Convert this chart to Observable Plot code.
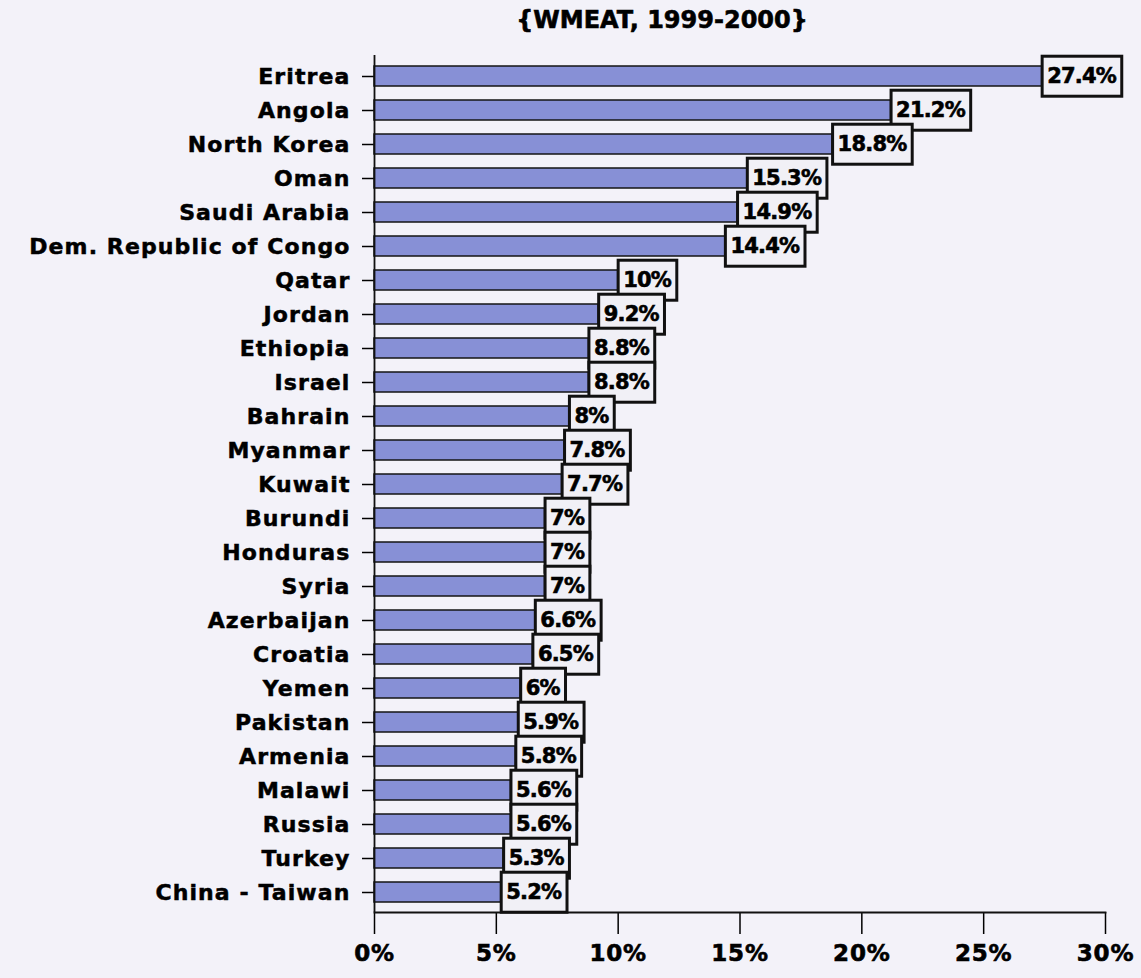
<!DOCTYPE html>
<html>
<head>
<meta charset="utf-8">
<script src="https://cdn.jsdelivr.net/npm/d3@7"></script>
<script src="https://cdn.jsdelivr.net/npm/@observablehq/plot@0.6"></script>
<style>
  html, body { margin: 0; padding: 0; background: #f3f2f9; }
  #chart svg { display: block; }
  #chart g[aria-label="y-axis tick label"] text { letter-spacing: 1.1px; stroke: #000; stroke-width: 0.5px; }
  #chart g[aria-label="x-axis tick label"] text { letter-spacing: 0.8px; stroke: #000; stroke-width: 0.6px; }
  #chart text.heavy { stroke: #000; stroke-width: 0.6px; }
  #chart text.value { letter-spacing: -0.8px; }
</style>
</head>
<body>
<div id="chart"></div>
<script>
// Military expenditure as a share of GNP, top countries (WMEAT 1999-2000)
const countries = [
  "Eritrea", "Angola", "North Korea", "Oman", "Saudi Arabia",
  "Dem. Republic of Congo", "Qatar", "Jordan", "Ethiopia", "Israel",
  "Bahrain", "Myanmar", "Kuwait", "Burundi", "Honduras",
  "Syria", "Azerbaijan", "Croatia", "Yemen", "Pakistan",
  "Armenia", "Malawi", "Russia", "Turkey", "China - Taiwan"
];
const values = [
  27.4, 21.2, 18.8, 15.3, 14.9,
  14.4, 10, 9.2, 8.8, 8.8,
  8, 7.8, 7.7, 7, 7,
  7, 6.6, 6.5, 6, 5.9,
  5.8, 5.6, 5.6, 5.3, 5.2
];
const xTicks = [0, 5, 10, 15, 20, 25, 30];
const title = "{WMEAT, 1999-2000}";

const rows = countries.map((country, i) => ({
  country,
  value: values[i],
  label: values[i] + "%"
}));

const chart = Plot.plot({
  width: 1141,
  height: 978,
  marginLeft: 374,
  marginRight: 36,
  marginTop: 55,
  marginBottom: 66,
  style: {
    background: "transparent",
    fontFamily: "'DejaVu Sans', sans-serif",
    fontWeight: "bold",
    color: "#000"
  },
  x: { domain: [0, 30] },
  y: { domain: countries, paddingInner: 0.42, paddingOuter: 0.24 },
  marks: [
    Plot.axisY({ tickSize: 12, tickPadding: 12, fontSize: 22, strokeWidth: 1.5, label: null }),
    Plot.axisX({ ticks: xTicks, tickFormat: d => d + "%", tickSize: 22, tickPadding: 10,
                 fontSize: 23, strokeWidth: 1.5, label: null }),
    Plot.barX(rows, { x: "value", y: "country", fill: "#8790d6", stroke: "#151515", strokeWidth: 1.5 }),
    Plot.ruleX([0], { stroke: "#111", strokeWidth: 1.8 }),
    Plot.frame({ anchor: "bottom", stroke: "#111", strokeWidth: 1.8 }),
    Plot.text(rows, {
      x: "value", y: "country", text: "label",
      textAnchor: "start", dx: 5, fontSize: 21, fill: "#000"
    }),
    Plot.text([title], {
      frameAnchor: "top", lineAnchor: "middle", dy: -35, dx: -78,
      fontSize: 24, fill: "#000"
    })
  ]
});

document.getElementById("chart").append(chart);

// Boxed value labels: a framed rectangle behind each percentage text
const labelGroups = chart.querySelectorAll('g[aria-label="text"]');
labelGroups.forEach(g => g.querySelectorAll("text").forEach(t => t.classList.add("heavy")));
const valueGroup = labelGroups[0];
for (const t of Array.from(valueGroup.querySelectorAll("text"))) {
  t.classList.add("value");
  const b = t.getBBox();
  const cy = b.y + b.height / 2;
  const rect = document.createElementNS("http://www.w3.org/2000/svg", "rect");
  rect.setAttribute("x", b.x - 5);
  rect.setAttribute("y", cy - 20);
  rect.setAttribute("width", b.width + 10);
  rect.setAttribute("height", 40);
  rect.setAttribute("fill", "#f1f0f6");
  rect.setAttribute("stroke", "#111");
  rect.setAttribute("stroke-width", 3);
  if (t.getAttribute("transform")) rect.setAttribute("transform", t.getAttribute("transform"));
  t.parentNode.insertBefore(rect, t);
}
</script>
</body>
</html>
